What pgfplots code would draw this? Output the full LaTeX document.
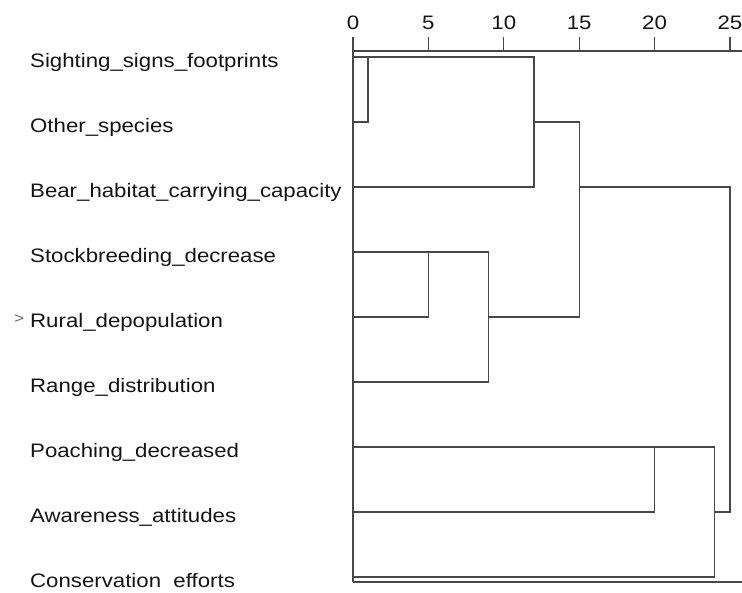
\documentclass[border=0pt]{standalone}
\usepackage{fontspec}
\setmainfont[FakeStretch=1.14]{Liberation Sans}
\usepackage{pgfplots}
\pgfplotsset{compat=1.18}
\definecolor{linec}{HTML}{474747}
\definecolor{textc}{HTML}{141414}
\begin{document}
\begin{tikzpicture}
\path[use as bounding box] (0,0) rectangle (742pt,592pt);
\begin{axis}[
  at={(353pt,10pt)}, anchor=south west,
  scale only axis, width=389pt, height=531pt,
  xmin=0, xmax=25.8, ymin=0.923, ymax=9.092,
  axis x line*=top, axis y line*=left,
  axis line style={linec, line width=1.25pt},
  xtick={0,5,10,15,20,25},
  xticklabels={0,5,10,15,20,25},
  xtick align=outside,
  major tick length=14pt,
  xtick style={draw=linec, line width=1.25pt},
  xticklabel shift=4pt,
  ytick={1,2,3,4,5,6,7,8,9},
  ytick style={draw=none},
  yticklabels={Conservation\ \ efforts, Awareness\_attitudes, Poaching\_decreased, Range\_distribution,
    {\llap{{\color{black!60}\fontsize{15}{15}\selectfont\raisebox{4pt}{>}}\hspace{6pt}}Rural\_depopulation},
    Stockbreeding\_decrease, Bear\_habitat\_carrying\_capacity, Other\_species, Sighting\_signs\_footprints},
  yticklabel style={anchor=base west, inner sep=0pt, xshift=-323pt, yshift=-11pt},
  tick label style={font=\fontsize{19.5}{23}\selectfont, text=textc},
  clip=false,
  dendro/.style={linec, line width=1.25pt, mark=none, forget plot},
]
% cluster: Sighting + Other (d=1), + Bear (d=12)
\addplot[dendro] coordinates {(0,9) (12,9) (12,7) (0,7)};
\addplot[dendro] coordinates {(0,8) (1,8) (1,9)};
% link to d=15
\addplot[dendro] coordinates {(12,8) (15,8) (15,5) (9,5)};
% Stockbreeding + Rural (d=5), + Range (d=9)
\addplot[dendro] coordinates {(0,6) (9,6) (9,4) (0,4)};
\addplot[dendro] coordinates {(0,5) (5,5) (5,6)};
% top join at d=25
\addplot[dendro] coordinates {(15,7) (25,7) (25,2) (24,2)};
% Poaching + Awareness (d=20), + Conservation (d=24)
\addplot[dendro] coordinates {(0,3) (24,3) (24,1) (0,1)};
\addplot[dendro] coordinates {(0,2) (20,2) (20,3)};
\draw[linec, line width=1.25pt] (rel axis cs:0,0) -- (rel axis cs:1,0);
\end{axis}
\end{tikzpicture}
\end{document}
